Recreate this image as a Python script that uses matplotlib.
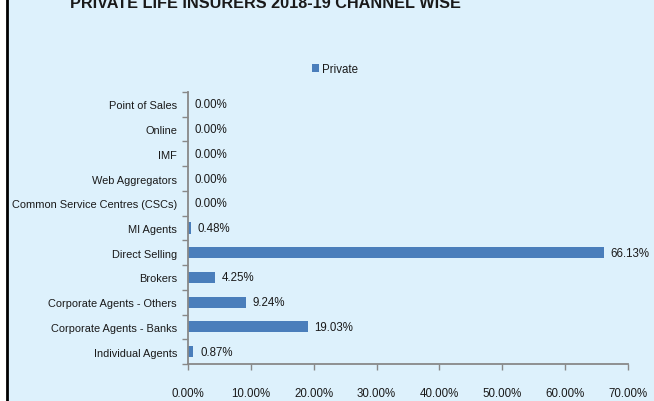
import matplotlib.pyplot as plt
from matplotlib.patches import Rectangle
from matplotlib.lines import Line2D

# Channel-wise share, private life insurers
channels = ["Individual Agents", "Corporate Agents - Banks", "Corporate Agents - Others",
            "Brokers", "Direct Selling", "MI Agents", "Common Service Centres (CSCs)",
            "Web Aggregators", "IMF", "Online", "Point of Sales"]
private_share = [0.87, 19.03, 9.24, 4.25, 66.13, 0.48, 0.00, 0.00, 0.00, 0.00, 0.00]
xticks = [0, 10, 20, 30, 40, 50, 60, 70]

plt.rcParams['font.family'] = ['Liberation Sans', 'DejaVu Sans']

bg = "#DDF1FC"
bar_color = "#4A7EBB"
text_color = "#1a1a1a"
fs = 8.3

fig = plt.figure(figsize=(6.54, 4.02), dpi=100)
fig.patch.set_facecolor("white")
fig.patches.append(Rectangle((7 / 654, 0), 1, 1, transform=fig.transFigure,
                             facecolor=bg, edgecolor="none", zorder=-5))
fig.lines.append(Line2D([6.5 / 654, 6.5 / 654], [0, 1], transform=fig.transFigure,
                        color="black", lw=2, zorder=-4))

ax = fig.add_axes([188 / 654, 1 - 365 / 402, 440 / 654, 272 / 402])
ax.set_facecolor("none")

bars = ax.barh(range(len(channels)), private_share, height=0.45, color=bar_color,
               label="Private")
for b, v in zip(bars, private_share):
    ax.text(v + 1.1, b.get_y() + b.get_height() / 2, f"{v:.2f}%", va="center",
            ha="left", fontsize=fs, color=text_color)

ax.set_xlim(0, 70)
ax.set_ylim(-0.5, len(channels) - 0.5)
ax.set_xticks(xticks)
ax.set_xticklabels([f"{t:.2f}%" for t in xticks], fontsize=fs, color=text_color)
ax.set_yticks([i - 0.5 for i in range(len(channels) + 1)], minor=False)
ax.set_yticklabels([])
ax.set_yticks(range(len(channels)), minor=True)
ax.set_yticklabels(channels, minor=True, fontsize=7.9, color=text_color)
ax.tick_params(axis="y", which="minor", length=0, pad=8)
ax.tick_params(axis="y", which="major", length=4, color="#888888", width=1)
ax.tick_params(axis="x", length=4, color="#888888", width=1, pad=12.5)

for s in ["top", "right"]:
    ax.spines[s].set_visible(False)
for s in ["left", "bottom"]:
    ax.spines[s].set_color("#888888")
    ax.spines[s].set_linewidth(1.3)

fig.legend(handles=[bars], labels=["Private"], loc="center", bbox_to_anchor=(335 / 654, 1 - 70 / 402),
           frameon=False, fontsize=fs, handlelength=0.6, handleheight=0.6,
           handletextpad=0.3, labelcolor=text_color)

fig.text(265 / 654, 1 - 8 / 402, "PRIVATE LIFE INSURERS 2018-19 CHANNEL WISE",
         ha="center", va="baseline", fontsize=11.7, fontweight="bold", color=text_color)

fig.savefig("out.png", dpi=100, facecolor=fig.get_facecolor())
